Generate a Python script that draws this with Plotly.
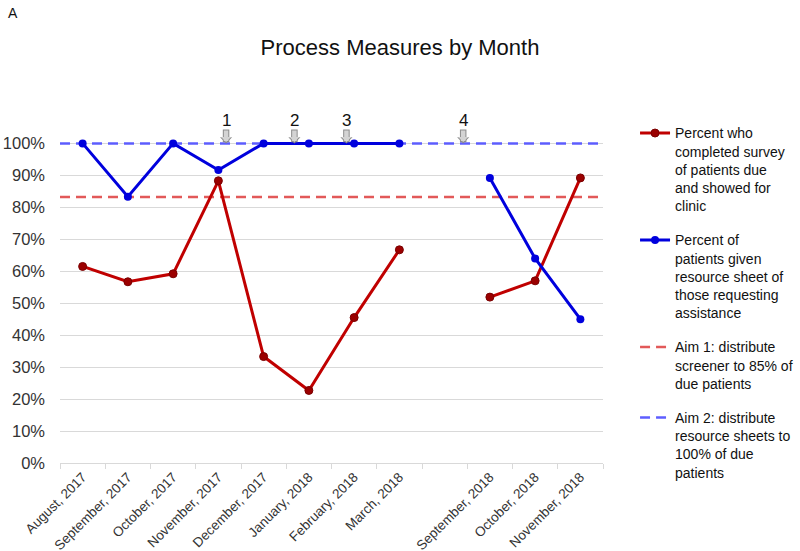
import plotly.graph_objects as go

months = ["August, 2017", "September, 2017", "October, 2017", "November, 2017",
          "December, 2017", "January, 2018", "February, 2018", "March, 2018", " ",
          "September, 2018", "October, 2018", "November, 2018"]
survey_pct = [61.5, 56.7, 59.2, 88.3, 33.3, 22.7, 45.5, 66.7, None, 51.9, 57.0, 89.2]
resource_pct = [100, 83.3, 100, 91.7, 100, 100, 100, 100, None, 89.2, 64.0, 45.0]
aim_values = [83.2, 100]
aim_names = ["Aim 1: distribute<br>screener to 85% of<br>due patients",
             "Aim 2: distribute<br>resource sheets to<br>100% of due<br>patients"]
aim_colors = ["rgba(224,80,80,0.95)", "rgba(85,85,255,0.95)"]
event_labels = ["1", "2", "3", "4"]
event_pos = [3.17, 4.68, 5.83, 8.41]
ytick_vals = [0, 10, 20, 30, 40, 50, 60, 70, 80, 90, 100]
ytick_text = ["0%", "10%", "20%", "30%", "40%", "50%", "60%", "70%", "80%", "90%", "100%"]

FONT = "Liberation Sans, Arial, sans-serif"
Y_TOP = 102  # a little headroom so the 100% dashed line is not clipped
plot_h = 320 * Y_TOP / 100
plot_bottom = 463

fig = go.Figure()

# aim lines on the base (hidden, 0..1) x-axis so they span the full plot width
for i, (v, nm, col) in enumerate(zip(aim_values, aim_names, aim_colors)):
    fig.add_trace(go.Scatter(
        x=[0, 1], y=[v, v], mode="lines", xaxis="x", yaxis="y", name=nm,
        line=dict(color=col, width=2.5, dash="10px,6px"),
        legendrank=3 + i, legendgroup="c%d" % i, cliponaxis=False, hoverinfo="skip"))

fig.add_trace(go.Scatter(
    x=months, y=survey_pct, mode="lines+markers", connectgaps=False, xaxis="x2", yaxis="y",
    name="Percent who<br>completed survey<br>of patients due<br>and showed for<br>clinic",
    line=dict(color="#c00000", width=3),
    marker=dict(color="#9b0000", size=8, line=dict(color="#7a0000", width=1)),
    legendrank=1, legendgroup="a", cliponaxis=False))

fig.add_trace(go.Scatter(
    x=months, y=resource_pct, mode="lines+markers", connectgaps=False, xaxis="x2", yaxis="y",
    name="Percent of<br>patients given<br>resource sheet of<br>those requesting<br>assistance",
    line=dict(color="#0000dd", width=3),
    marker=dict(color="#0000dd", size=8),
    legendrank=2, legendgroup="b", cliponaxis=False))

for lab, pos in zip(event_labels, event_pos):
    # block arrow: dark outline underneath, light fill on top
    fig.add_annotation(x=pos, y=100, xref="x2", yref="y", text=" ",
                       showarrow=True, ax=0, ay=-16, arrowcolor="#8c8c8c",
                       arrowwidth=6.5, arrowhead=1, arrowsize=0.31, standoff=0,
                       font=dict(size=1))
    fig.add_annotation(x=pos, y=100, xref="x2", yref="y", text=" ",
                       showarrow=True, ax=0, ay=-15, arrowcolor="#d4d4d4",
                       arrowwidth=4.5, arrowhead=1, arrowsize=0.37, standoff=1.5,
                       font=dict(size=1))
    fig.add_annotation(x=pos, y=100, xref="x2", yref="y", text=lab,
                       showarrow=False, yshift=23, yanchor="middle",
                       font=dict(family=FONT, size=17, color="#111"))

fig.add_annotation(text="A", xref="paper", yref="paper", x=-0.099,
                   y=(plot_bottom - 12) / plot_h,
                   xanchor="left", yanchor="middle", showarrow=False,
                   font=dict(family=FONT, size=14, color="#111"))

fig.update_layout(
    width=800, height=551,
    margin=dict(l=60, r=197, t=plot_bottom - plot_h, b=551 - plot_bottom, autoexpand=False),
    paper_bgcolor="white", plot_bgcolor="white",
    font=dict(family=FONT, color="#222"),
    title=dict(text="Process Measures by Month", x=0.5, xanchor="center",
               y=1 - 47 / 551, yanchor="middle",
               font=dict(family=FONT, size=22, color="#111")),
    xaxis=dict(range=[0, 1], visible=False, showgrid=False, zeroline=False,
               automargin=False),
    xaxis2=dict(type="category", categoryorder="array", categoryarray=months,
                overlaying="x", anchor="y", side="bottom",
                tickson="boundaries", ticks="outside", ticklen=5, tickcolor="#d9d9d9",
                showline=True, linecolor="#d9d9d9", linewidth=1, showgrid=False,
                tickangle=-45, tickfont=dict(family=FONT, size=13.5, color="#333"),
                range=[-0.5, 11.5], automargin=False),
    yaxis=dict(range=[0, Y_TOP], tickmode="array", tickvals=ytick_vals, ticktext=ytick_text,
               showgrid=True, gridcolor="#d9d9d9", gridwidth=1, zeroline=False,
               showline=False, tickfont=dict(family=FONT, size=16.5, color="#333"),
               ticklabelstandoff=14, automargin=False),
    legend=dict(x=1.059, y=(plot_bottom - 117) / plot_h, xanchor="left", yanchor="top",
                valign="top", font=dict(family=FONT, size=14, color="#111"), maxheight=1000,
                tracegroupgap=13, bgcolor="rgba(0,0,0,0)"),
    showlegend=True,
)

fig.write_html("out.html", config={"displayModeBar": False},
               post_script="document.body.style.margin='0';document.body.style.overflow='hidden';")
